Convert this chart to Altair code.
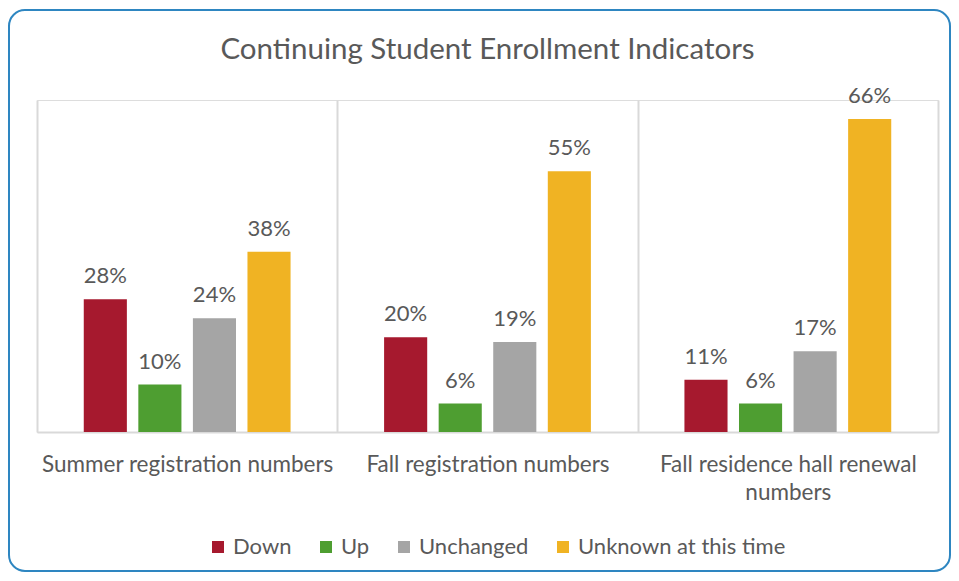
import altair as alt
import pandas as pd

categories = ["Summer registration numbers", "Fall registration numbers", "Fall residence hall renewal numbers"]
series = ["Down", "Up", "Unchanged", "Unknown at this time"]
down = [28, 20, 11]
up = [10, 6, 6]
unchanged = [24, 19, 17]
unknown = [38, 55, 66]
colors = ["#A6192E", "#4E9E31", "#A5A5A5", "#F0B323"]
title_text = "Continuing Student  Enrollment Indicators"

rows = []
for i, c in enumerate(categories):
    for s, vals in zip(series, [down, up, unchanged, unknown]):
        rows.append({"category": c, "series": s, "value": vals[i]})
df = pd.DataFrame(rows)

FONT = "Lato"
TXT = "#595959"
W, H = 901, 332

x_enc = alt.X("category:N", sort=categories, title=None,
              scale=alt.Scale(paddingInner=0, paddingOuter=0),
              axis=alt.Axis(
                  grid=True, tickBand="extent", gridColor="#D9D9D9", gridWidth=2,
                  ticks=False, domain=True, domainColor="#D9D9D9", domainWidth=2,
                  labelAngle=0, labelFontSize=22.5, labelFont=FONT, labelColor=TXT,
                  labelPadding=21, labelBaseline="top", labelLineHeight=28,
                  labelLimit=400,
                  labelExpr="datum.label == 'Fall residence hall renewal numbers' ? ['Fall residence hall renewal', 'numbers'] : datum.label",
              ))
xo_enc = alt.XOffset("series:N", sort=series,
                     scale=alt.Scale(paddingInner=0.21, paddingOuter=0.857))
y_enc = alt.Y("value:Q", scale=alt.Scale(domain=[0, 70], nice=False, zero=True), axis=None)

base = alt.Chart(df).encode(x=x_enc, xOffset=xo_enc, y=y_enc)

bars = base.mark_bar().encode(
    color=alt.Color("series:N", sort=series,
                    scale=alt.Scale(domain=series, range=colors),
                    legend=alt.Legend(
                        title=None, orient="none", direction="horizontal",
                        legendX=170, legendY=436,
                        symbolType="square", symbolSize=144, symbolStrokeWidth=0,
                        labelFontSize=22, labelFont=FONT, labelColor=TXT,
                        labelOffset=4, columnPadding=23, labelLimit=400,
                    ))
)

labels = base.transform_calculate(lbl="datum.value + '%'").mark_text(
    baseline="alphabetic", dy=-16, fontSize=22, font=FONT, color=TXT
).encode(text="lbl:N")

meta = pd.DataFrame({"t": [title_text]})
title = alt.Chart(meta).mark_text(
    fontSize=29.5, font=FONT, color=TXT, align="center", baseline="middle"
).encode(text="t:N", x=alt.value(W / 2), y=alt.value(-50))

border = alt.Chart(meta).mark_rect(
    fillOpacity=0, stroke="#2E86C1", strokeWidth=2, cornerRadius=16
).encode(x=alt.value(-28), x2=alt.value(913), y=alt.value(-90), y2=alt.value(471))

chart = alt.layer(border, bars, labels, title).properties(
    width=W, height=H,
    autosize=alt.AutoSizeParams(type="none"),
    padding={"left": 29, "top": 92, "right": 13, "bottom": 141},
).configure_view(stroke=None).configure(background="white")

chart.save("out.html", embed_options={"renderer": "svg", "actions": False})
